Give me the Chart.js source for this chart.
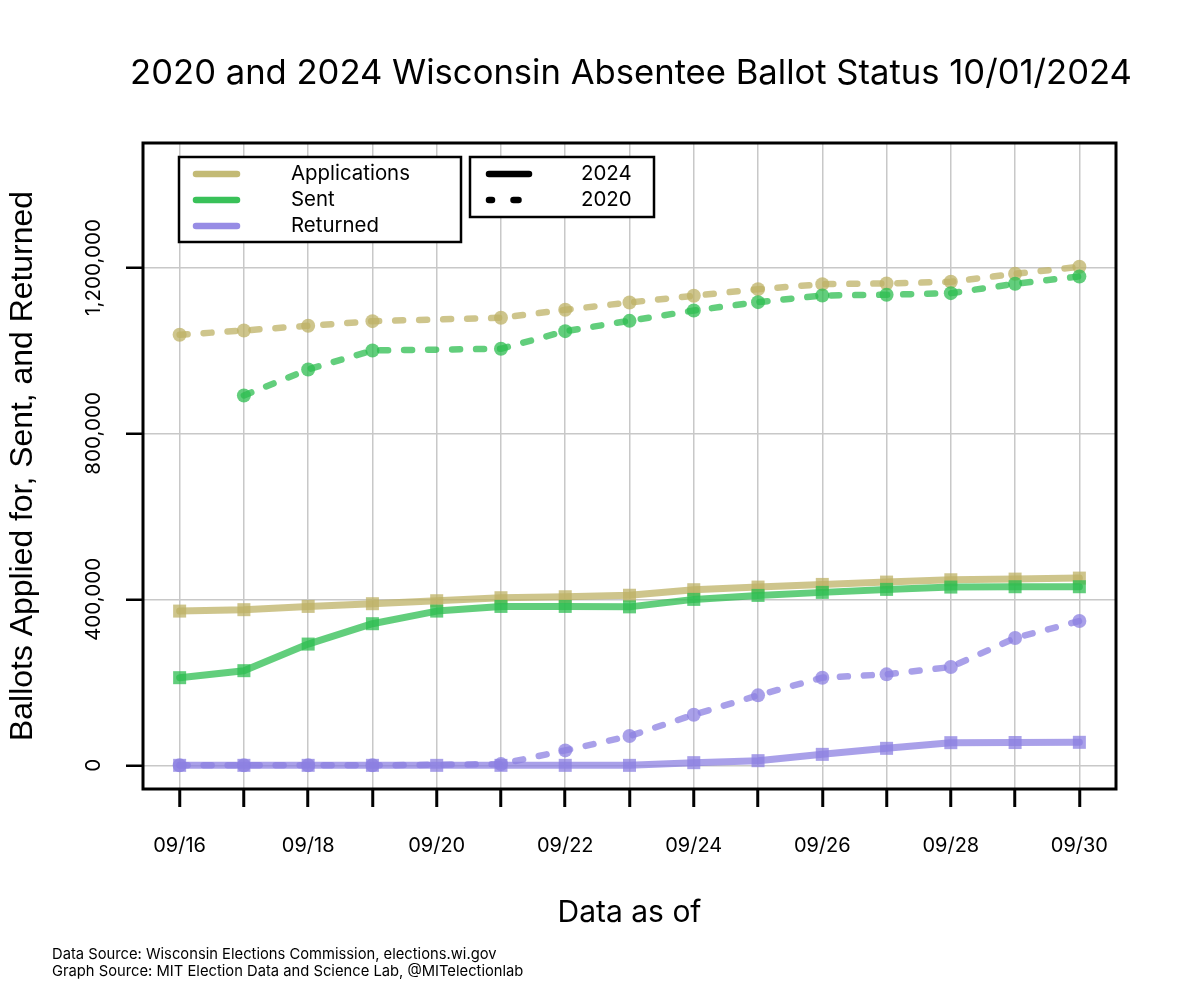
<!DOCTYPE html>
<html>
<head>
<meta charset="utf-8">
<script src="https://cdn.jsdelivr.net/npm/chart.js@4/dist/chart.umd.min.js"></script>
<style>
  html, body { margin: 0; padding: 0; background: #ffffff; }
  #wrap { width: 1190px; height: 1000px; }
</style>
</head>
<body>
<div id="wrap"><canvas id="c" width="1190" height="1000"></canvas></div>
<script>
// ---- data ----
const dates = ['09/16','09/17','09/18','09/19','09/20','09/21','09/22','09/23','09/24','09/25','09/26','09/27','09/28','09/29','09/30'];
const apps2024 = [371800, 375200, 383100, 389600, 396800, 404000, 406400, 410000, 423300, 429700, 436100, 441700, 447300, 448900, 451300];
const sent2024 = [211300, 228200, 292300, 341400, 371800, 383100, 383100, 382000, 400000, 409600, 416900, 424100, 429700, 430500, 430500];
const ret2024  = [0, 0, 0, 0, 0, 0, 0, 0, 6500, 11300, 26500, 41000, 54700, 55000, 55500];
const apps2020 = [1037800, 1048200, 1059400, 1070600, null, 1078700, 1098000, 1115700, 1131700, 1147700, 1159800, 1161400, 1165500, 1184800, 1201600];
const sent2020 = [null, 891600, 954200, 1000000, null, 1004000, 1046500, 1071400, 1096400, 1116400, 1132500, 1134200, 1138100, 1160700, 1178300];
const ret2020  = [0, 0, 0, 0, null, 3000, 36000, 70600, 122000, 168700, 211300, 219300, 237000, 306800, 347800];
const yTicks = [0, 400000, 800000, 1200000];
const seriesNames = ['Applications', 'Sent', 'Returned'];
const yearNames = ['2024', '2020'];

const titleText = '2020 and 2024 Wisconsin Absentee Ballot Status 10/01/2024';
const yTitle = 'Ballots Applied for, Sent, and Returned';
const xTitle = 'Data as of';
const foot1 = 'Data Source: Wisconsin Elections Commission, elections.wi.gov';
const foot2 = 'Graph Source: MIT Election Data and Science Lab, @MITelectionlab';

// ---- styles ----
const colApps = 'rgba(189,178,102,0.75)';
const colSent = 'rgba(46,190,80,0.75)';
const colRet  = 'rgba(140,128,226,0.75)';
const legApps = 'rgba(189,178,102,0.9)';
const legSent = 'rgba(46,190,80,0.95)';
const legRet  = 'rgba(140,128,226,0.9)';
const FONT = 'Inter, "DejaVu Sans", sans-serif';
const FONT2 = '"Liberation Sans", Arial, sans-serif';

function pts(arr) { return arr.map((v, i) => ({ x: i, y: v })); }

function solid(label, arr, color, ord) {
  return {
    label, data: pts(arr), borderColor: color, backgroundColor: color,
    borderWidth: 7, borderCapStyle: 'round', borderJoinStyle: 'round',
    pointStyle: 'rect', pointRadius: 9.2, pointHoverRadius: 9.2,
    pointBackgroundColor: color, pointBorderWidth: 0, spanGaps: true, order: ord
  };
}
function dashed(label, arr, color, ord) {
  return {
    label, data: pts(arr), borderColor: color, backgroundColor: color,
    borderWidth: 6.5, borderDash: [8, 16], borderCapStyle: 'round', borderJoinStyle: 'round',
    pointStyle: 'circle', pointRadius: 7, pointHoverRadius: 7,
    pointBackgroundColor: color, pointBorderWidth: 0, spanGaps: true, order: ord
  };
}

function fitFont(ctx, text, width, family, weight) {
  ctx.font = (weight || '') + ' 20px ' + family;
  const w = ctx.measureText(text).width;
  return 20 * width / w;
}

const decor = {
  id: 'decor',
  afterDraw(chart) {
    const ctx = chart.ctx;
    const a = chart.chartArea;
    ctx.save();
    // plot box
    ctx.strokeStyle = '#000';
    ctx.lineWidth = 3;
    ctx.strokeRect(a.left, a.top, a.right - a.left, a.bottom - a.top);

    ctx.fillStyle = '#000';
    // title
    let fs = fitFont(ctx, titleText, 1002, FONT);
    ctx.font = fs + 'px ' + FONT;
    ctx.textAlign = 'center'; ctx.textBaseline = 'alphabetic';
    ctx.fillText(titleText, 631, 84);

    // y tick labels (rotated)
    const ys = chart.scales.y;
    fs = fitFont(ctx, '1,200,000', 97, FONT);
    ctx.font = fs + 'px ' + FONT;
    ctx.textAlign = 'center'; ctx.textBaseline = 'middle';
    yTicks.forEach(v => {
      const py = ys.getPixelForValue(v);
      ctx.save();
      ctx.translate(94, py);
      ctx.rotate(-Math.PI / 2);
      ctx.fillText(v.toLocaleString('en-US'), 0, 0);
      ctx.restore();
    });

    // y title
    fs = fitFont(ctx, yTitle, 550, FONT2);
    ctx.save();
    ctx.font = fs + 'px ' + FONT2;
    ctx.translate(23, (a.top + a.bottom) / 2);
    ctx.rotate(-Math.PI / 2);
    ctx.textAlign = 'center'; ctx.textBaseline = 'middle';
    ctx.fillText(yTitle, 0, 0);
    ctx.restore();

    // x title
    fs = fitFont(ctx, xTitle, 144, FONT);
    ctx.font = fs + 'px ' + FONT;
    ctx.textAlign = 'center'; ctx.textBaseline = 'middle';
    ctx.fillText(xTitle, (a.left + a.right) / 2, 913);

    // footer
    fs = fitFont(ctx, foot1, 445, FONT);
    ctx.font = fs + 'px ' + FONT;
    ctx.textAlign = 'left'; ctx.textBaseline = 'middle';
    ctx.fillText(foot1, 52, 955);
    ctx.fillText(foot2, 52, 972);

    // legend 1
    ctx.fillStyle = '#fff';
    ctx.fillRect(179, 157, 282, 85);
    ctx.fillRect(470, 157, 184, 60);
    ctx.strokeStyle = '#000'; ctx.lineWidth = 2.5;
    ctx.strokeRect(179, 157, 282, 85);
    ctx.strokeRect(470, 157, 184, 60);
    const lcols = [legApps, legSent, legRet];
    const rows = [174, 200, 226];
    fs = fitFont(ctx, seriesNames[0], 119, FONT);
    ctx.lineCap = 'round';
    seriesNames.forEach((n, i) => {
      ctx.strokeStyle = lcols[i]; ctx.lineWidth = 6.5;
      ctx.beginPath(); ctx.moveTo(196, rows[i]); ctx.lineTo(237, rows[i]); ctx.stroke();
      ctx.fillStyle = '#000';
      ctx.font = fs + 'px ' + FONT;
      ctx.textAlign = 'left'; ctx.textBaseline = 'middle';
      ctx.fillText(n, 291, rows[i]);
    });
    // legend 2
    ctx.strokeStyle = '#000'; ctx.lineWidth = 6.5;
    ctx.beginPath(); ctx.moveTo(489, 174); ctx.lineTo(529, 174); ctx.stroke();
    ctx.beginPath(); ctx.moveTo(489, 200); ctx.lineTo(492, 200); ctx.stroke();
    ctx.beginPath(); ctx.moveTo(513.5, 200); ctx.lineTo(518.5, 200); ctx.stroke();
    ctx.fillStyle = '#000';
    ctx.fillText(yearNames[0], 581, 174);
    ctx.fillText(yearNames[1], 581, 200);
    ctx.restore();
  }
};

new Chart(document.getElementById('c'), {
  type: 'line',
  data: {
    datasets: [
      dashed('Applications 2020', apps2020, colApps, 6),
      dashed('Sent 2020', sent2020, colSent, 5),
      dashed('Returned 2020', ret2020, colRet, 4),
      solid('Applications 2024', apps2024, colApps, 3),
      solid('Sent 2024', sent2024, colSent, 2),
      solid('Returned 2024', ret2024, colRet, 1)
    ]
  },
  options: {
    responsive: false,
    animation: false,
    events: [],
    layout: { padding: { top: 143, right: 74, left: 0, bottom: 0 } },
    plugins: { legend: { display: false }, title: { display: false }, tooltip: { enabled: false } },
    scales: {
      x: {
        type: 'linear',
        min: -0.57, max: 14.57,
        afterBuildTicks(scale) { scale.ticks = dates.map((d, i) => ({ value: i })); },
        afterFit(scale) { scale.height = 211; },
        ticks: {
          autoSkip: false, maxRotation: 0, minRotation: 0, padding: 27,
          color: '#000', font: { family: 'Inter', size: 20 },
          callback(v, i) { return i % 2 === 0 ? dates[i] : ''; }
        },
        grid: { color: '#c8c8c8', lineWidth: 1.5, drawTicks: true, tickLength: 18, tickColor: '#000', tickWidth: 3 },
        border: { display: false }
      },
      y: {
        type: 'linear',
        min: -57000, max: 1500000,
        afterBuildTicks(scale) { scale.ticks = yTicks.map(v => ({ value: v })); },
        afterFit(scale) { scale.width = 143; },
        ticks: { display: false },
        grid: { color: '#c8c8c8', lineWidth: 1.5, drawTicks: true, tickLength: 17, tickColor: '#000', tickWidth: 2.5 },
        border: { display: false }
      }
    }
  },
  plugins: [decor]
});
</script>
</body>
</html>
